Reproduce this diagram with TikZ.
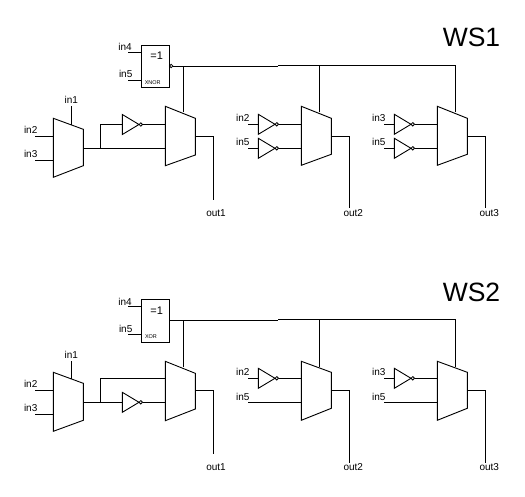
\documentclass[tikz,border=0pt]{standalone}
\usepackage{fontspec}
\setmainfont{Liberation Sans}
\newcommand{\fsz}[1]{\fontsize{#1}{#1}\selectfont}
\tikzset{
  x=1pt,y=-1pt,
  wire/.style={line width=0.9pt,line cap=butt,line join=miter},
  gate/.style={line width=0.9pt,line join=miter},
  lbl/.style={inner sep=0pt,font=\fsz{10}},
  big/.style={inner sep=0pt,font=\fsz{26.5}},
  tiny/.style={inner sep=0pt,font=\fsz{5.5}},
  eq/.style={inner sep=0pt,font=\fsz{11}},
}
% name, xl, xr, left top, left bottom, right top, right bottom
\newcommand{\muxgate}[7]{%
  \draw[gate] (#2,#4) coordinate (#1-lt) -- (#3,#6) coordinate (#1-rt) -- (#3,#7) coordinate (#1-rb) -- (#2,#5) coordinate (#1-lb) -- cycle;
}
% name, x, y centre
\newcommand{\invgate}[3]{%
  \draw[gate] (#2,#3-10) -- (#2+16.7,#3) -- (#2,#3+10) -- cycle;
  \draw[line width=0.8pt] (#2+18.5,#3) circle (1.7);
  \coordinate (#1-in) at (#2,#3);
  \coordinate (#1-out) at (#2+20.2,#3);
}
% name, y top, y bottom
\newcommand{\xorbox}[3]{%
  \node[draw,line width=0.9pt,minimum width=28pt,minimum height=#3pt-#2pt,inner sep=0pt,anchor=north west] (#1) at (141.3,#2) {};
}
\begin{document}
\begin{tikzpicture}
\useasboundingbox (0,0) rectangle (525,496);
\fill[white] (0,0) rectangle (525,496);

% ===== WS1 =====
\node[big] (t1) at (471.5,37.5) {WS1};
\xorbox{ax}{45.3}{86.7}
\node[eq] (axe) at (156.7,55.7) {=1};
\node[tiny] (axt) at (152.7,82.4) {XNOR};
\draw[line width=0.8pt] (171.2,66) circle (1.7);
\node[lbl] (ai4) at (125,47.3) {in4};
\node[lbl] (ai5) at (125.7,74) {in5};
\coordinate (a4s) at (128,52.7); \coordinate (a4e) at (141.3,52.7);
\coordinate (a5s) at (128,80.7); \coordinate (a5e) at (141.3,80.7);
\draw[wire] (a4s) -- (a4e);
\draw[wire] (a5s) -- (a5e);

\muxgate{am}{53.3}{83.3}{118.3}{177.3}{129.3}{165.7}
\node[lbl] (ai1) at (71.3,100) {in1};
\node[lbl] (ai2) at (30.7,130) {in2};
\node[lbl] (ai3) at (30.7,154.3) {in3};
\coordinate (a1s) at (71.7,106); \coordinate (a1e) at (71.7,124.5);
\coordinate (a2s) at (35.3,136.3); \coordinate (a2e) at (53.3,136.3);
\coordinate (a3s) at (35.3,160.3); \coordinate (a3e) at (53.3,160.3);
\draw[wire] (a1s) -- (a1e);
\draw[wire] (a2s) -- (a2e);
\draw[wire] (a3s) -- (a3e);

\muxgate{ab}{165.3}{195.3}{106.3}{165.7}{118.3}{155}
\invgate{ai}{122.3}{124.5}
\coordinate (aAo) at (83.3,148); \coordinate (aBi) at (165.3,148);
\coordinate (aJ) at (100.7,148);
\coordinate (aBt) at (165.3,124.5);
\draw[wire] (aAo) -- (aBi);
\draw[wire] (aJ) |- (ai-in);
\draw[wire] (ai-out) -- (aBt);
\coordinate (aO) at (172.9,66);
\coordinate (aK) at (278,66.6);
\coordinate (aL) at (278,65.3);
\coordinate (aBs) at (183.7,112.3);
\coordinate (aBsT) at (183.7,66.6);
\draw[wire] (aO |- aK) -- (aK);
\draw[wire] (aBsT) -- (aBs);
\coordinate (aCs) at (319.3,112.3);
\coordinate (aDs) at (455.3,112.3);
\draw[wire] (aL) -| (aDs);
\draw[wire] (aCs) -- (aCs |- aL);
\coordinate (aBo) at (195.3,136.3);
\coordinate (ao1) at (213.3,199.5);
\draw[wire] (aBo) -| (ao1);
\node[lbl] (ao1l) at (216,213) {out1};

\muxgate{ac}{301.3}{331.3}{106.3}{165.3}{118.3}{154.3}
\invgate{ai2g}{258.3}{124.3}
\invgate{ai5g}{258.3}{148.3}
\node[lbl] (acl2) at (242.7,118) {in2};
\node[lbl] (acl5) at (242.7,142) {in5};
\coordinate (ac2s) at (248.3,124.3); \coordinate (ac5s) at (248.3,148.3);
\coordinate (ac2e) at (301.3,124.3); \coordinate (ac5e) at (301.3,148.3);
\draw[wire] (ac2s) -- (ai2g-in);
\draw[wire] (ac5s) -- (ai5g-in);
\draw[wire] (ai2g-out) -- (ac2e);
\draw[wire] (ai5g-out) -- (ac5e);
\coordinate (aCo) at (331.3,136.3); \coordinate (ao2) at (349.3,207.7);
\draw[wire] (aCo) -| (ao2);
\node[lbl] (ao2l) at (353.3,213) {out2};

\muxgate{ad}{437.3}{467.3}{106.3}{165.3}{118.3}{154.3}
\invgate{ai3g}{394.3}{124.3}
\invgate{ai6g}{394.3}{148.3}
\node[lbl] (adl3) at (378.7,118) {in3};
\node[lbl] (adl5) at (378.7,142) {in5};
\coordinate (ad3s) at (384,124.3); \coordinate (ad5s) at (384,148.3);
\coordinate (ad3e) at (437.3,124.3); \coordinate (ad5e) at (437.3,148.3);
\draw[wire] (ad3s) -- (ai3g-in);
\draw[wire] (ad5s) -- (ai6g-in);
\draw[wire] (ai3g-out) -- (ad3e);
\draw[wire] (ai6g-out) -- (ad5e);
\coordinate (aDo) at (467.3,136.3); \coordinate (ao3) at (485.3,207.7);
\draw[wire] (aDo) -| (ao3);
\node[lbl] (ao3l) at (489.3,213) {out3};

% ===== WS2 =====
\node[big] (t2) at (471.5,292.5) {WS2};
\xorbox{bx}{299.3}{341.7}
\node[eq] (bxe) at (156.7,310.5) {=1};
\node[tiny] (bxt) at (151,336.8) {XOR};
\node[lbl] (bi4) at (125,301.5) {in4};
\node[lbl] (bi5) at (125.7,328.5) {in5};
\coordinate (b4s) at (128,306); \coordinate (b4e) at (141.3,306);
\coordinate (b5s) at (128,334.7); \coordinate (b5e) at (141.3,334.7);
\draw[wire] (b4s) -- (b4e);
\draw[wire] (b5s) -- (b5e);

\muxgate{bm}{53.3}{83.3}{372.3}{431.3}{383.3}{420.3}
\node[lbl] (bi1) at (71.3,355) {in1};
\node[lbl] (bi2) at (30.7,384) {in2};
\node[lbl] (bi3) at (30.7,408.3) {in3};
\coordinate (b1s) at (71.7,361); \coordinate (b1e) at (71.7,378.5);
\coordinate (b2s) at (35.3,390.3); \coordinate (b2e) at (53.3,390.3);
\coordinate (b3s) at (35.3,414.3); \coordinate (b3e) at (53.3,414.3);
\draw[wire] (b1s) -- (b1e);
\draw[wire] (b2s) -- (b2e);
\draw[wire] (b3s) -- (b3e);

\muxgate{bb}{165.3}{195.3}{361.3}{420.7}{373.3}{409}
\invgate{bi}{122.3}{402.3}
\coordinate (bAo) at (83.3,402.3); \coordinate (bBi) at (165.3,402.3);
\coordinate (bJ) at (100.7,402.3); \coordinate (bBt) at (165.3,378.7);
\draw[wire] (bAo) -- (bi-in);
\draw[wire] (bi-out) -- (bBi);
\draw[wire] (bJ) |- (bBt);
\coordinate (bO) at (169.3,320);
\coordinate (bK) at (278,320);
\coordinate (bL) at (278,319);
\coordinate (bBs) at (183.7,367.3);
\draw[wire] (bO) -- (bK);
\draw[wire] (bBs) -- (bBs |- bK);
\coordinate (bCs) at (319.3,367.3);
\coordinate (bDs) at (455.3,367.3);
\draw[wire] (bL) -| (bDs);
\draw[wire] (bCs) -- (bCs |- bL);
\coordinate (bBo) at (195.3,390.3);
\coordinate (bo1) at (213.3,454.3);
\draw[wire] (bBo) -| (bo1);
\node[lbl] (bo1l) at (216,467) {out1};

\muxgate{bc}{301.3}{331.3}{361.3}{420.3}{372.3}{408.3}
\invgate{bi2g}{258.3}{378.3}
\node[lbl] (bcl2) at (242.7,372.3) {in2};
\node[lbl] (bcl5) at (242.7,396.7) {in5};
\coordinate (bc2s) at (248.3,378.3); \coordinate (bc5s) at (248.3,402.3);
\coordinate (bc2e) at (301.3,378.3); \coordinate (bc5e) at (301.3,402.3);
\draw[wire] (bc2s) -- (bi2g-in);
\draw[wire] (bi2g-out) -- (bc2e);
\draw[wire] (bc5s) -- (bc5e);
\coordinate (bCo) at (331.3,390.3); \coordinate (bo2) at (349.3,462.7);
\draw[wire] (bCo) -| (bo2);
\node[lbl] (bo2l) at (353.3,467) {out2};

\muxgate{bd}{437.3}{467.3}{361.3}{420.3}{372.3}{408.3}
\invgate{bi3g}{394.3}{378.3}
\node[lbl] (bdl3) at (378.7,372.3) {in3};
\node[lbl] (bdl5) at (378.7,396.7) {in5};
\coordinate (bd3s) at (384,378.3); \coordinate (bd5s) at (384,402.3);
\coordinate (bd3e) at (437.3,378.3); \coordinate (bd5e) at (437.3,402.3);
\draw[wire] (bd3s) -- (bi3g-in);
\draw[wire] (bi3g-out) -- (bd3e);
\draw[wire] (bd5s) -- (bd5e);
\coordinate (bDo) at (467.3,390.3); \coordinate (bo3) at (485.3,462.7);
\draw[wire] (bDo) -| (bo3);
\node[lbl] (bo3l) at (489.3,467) {out3};
\end{tikzpicture}
\end{document}
